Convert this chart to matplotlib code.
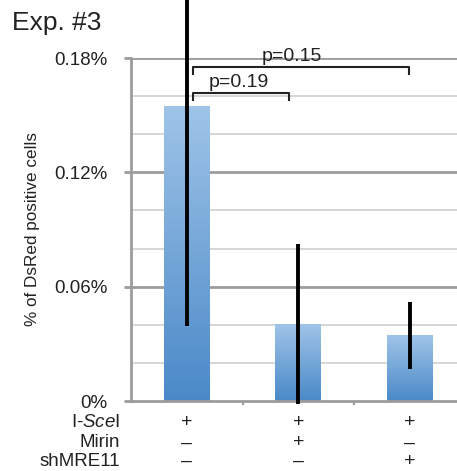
import numpy as np
import matplotlib.pyplot as plt
from matplotlib.colors import LinearSegmentedColormap

plt.rcParams['font.family'] = ['Liberation Sans', 'DejaVu Sans']
plt.rcParams['mathtext.fontset'] = 'custom'
plt.rcParams['mathtext.rm'] = 'Liberation Sans'
plt.rcParams['mathtext.it'] = 'Liberation Sans:italic'

# DsRed positive cells (%), mean and error
groups = ['ctrl', 'Mirin', 'shMRE11']
means = [0.1543, 0.0404, 0.0346]
errors = [0.115, 0.042, 0.0176]

# treatment table under the x axis
row_labels = ['I-$\\mathit{Sce}$I', 'Mirin', 'shMRE11']
row_marks = [['+', '+', '+'],
             ['–', '+', '–'],
             ['–', '–', '+']]

# significance brackets: (left, right, height, p text, text x)
brackets = [(0.06, 0.92, 0.1617, 'p=0.19', 0.47),
            (0.06, 1.99, 0.1753, 'p=0.15', 0.94)]

fig = plt.figure(figsize=(4.57, 4.71), dpi=100)
ax = fig.add_axes([131 / 457, 70 / 471, 334.5 / 457, 343 / 471])

x = np.arange(len(groups))
width = 0.41
ymax = 0.18

# grid lines
for y in np.arange(0.02, ymax + 0.001, 0.02):
    major = abs((y / 0.06) - round(y / 0.06)) < 1e-6
    ax.axhline(y, color='#9c9c9c' if major else '#d0d0d0',
               lw=2.0 if major else 1.2, zorder=0.5)

grad = LinearSegmentedColormap.from_list('bar', ['#4a89c8', '#9fc4e8'])
ramp = np.linspace(0, 1, 256).reshape(-1, 1)
for xi, m in zip(x, means):
    ax.imshow(ramp, cmap=grad, origin='lower', aspect='auto',
              extent=(xi - width / 2, xi + width / 2, 0, m), zorder=1)

eb = ax.errorbar(x, means, yerr=errors, fmt='none', ecolor='black',
                 elinewidth=2.8, capsize=0, zorder=3)
for coll in eb.lines[2]:
    coll.set_clip_on(False)

for left, right, h, txt, tx in brackets:
    d = 0.0035
    ax.plot([left, left, right, right], [h - d, h, h, h - d],
            color='#222222', lw=1.5, zorder=4)
    ax.text(tx, h + 0.0008, txt, ha='center', va='bottom', fontsize=14,
            color='#222222', zorder=4)

ax.set_xlim(-0.5, 2.5)
ax.set_ylim(0, ymax)
ax.set_yticks([0, 0.06, 0.12, 0.18])
ax.set_yticklabels(['0%', '0.06%', '0.12%', '0.18%'], fontsize=13.5,
                   color='#222222')
ax.set_xticks([0.5, 1.5])
ax.set_xticklabels([])
ax.tick_params(axis='y', length=5, width=2, color='#9c9c9c', pad=12)
ax.tick_params(axis='x', length=3, width=1.5, color='#9c9c9c')
for s in ['top', 'right']:
    ax.spines[s].set_visible(False)
for s in ['left', 'bottom']:
    ax.spines[s].set_color('#9c9c9c')
    ax.spines[s].set_linewidth(2)

ax.set_ylabel('% of DsRed positive cells', fontsize=12.3, color='#222222',
              labelpad=10)

# treatment table
row_y = [-0.0115, -0.022, -0.0315]
for ry, lab, marks in zip(row_y, row_labels, row_marks):
    ax.text(-0.6, ry, lab, ha='right', va='center', fontsize=13.5,
            color='#222222', clip_on=False)
    for xi, mk in zip(x, marks):
        ax.text(xi, ry, mk, ha='center', va='center', fontsize=14,
                color='#222222', clip_on=False)

fig.text(12 / 457, 1 - 23 / 471, 'Exp. #3', ha='left', va='center',
         fontsize=19, color='#222222')

fig.savefig('out.png', dpi=100)
